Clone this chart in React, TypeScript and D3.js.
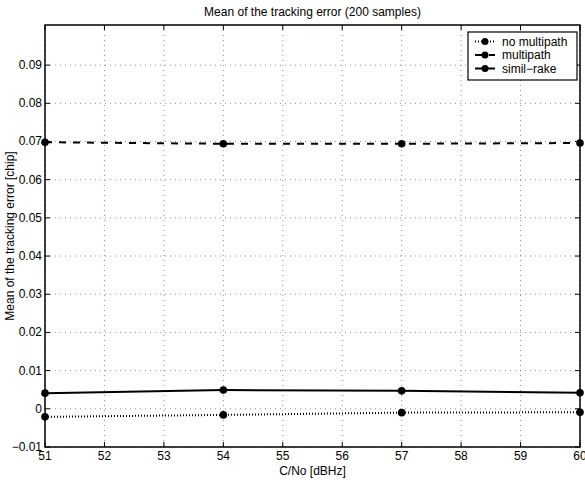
import React from "react";
import * as d3 from "d3";

const xValues = [51, 54, 57, 60];
const noMultipath = [-0.0021, -0.0016, -0.0010, -0.0009];
const multipath = [0.0698, 0.0694, 0.0694, 0.0696];
const similRake = [0.0041, 0.0049, 0.0047, 0.0042];
const xTicks = [51, 52, 53, 54, 55, 56, 57, 58, 59, 60];
const yTicks = [-0.01, 0, 0.01, 0.02, 0.03, 0.04, 0.05, 0.06, 0.07, 0.08, 0.09];
const seriesNames = ["no multipath", "multipath", "simil\u2212rake"];
const title = "Mean of the tracking error (200 samples)";
const xLabel = "C/No [dBHz]";
const yLabel = "Mean of the tracking error [chip]";

const W = 585, H = 480;
const L = 45, R = 580, T = 25, B = 447;
const font = "'Liberation Sans', Arial, Helvetica, sans-serif";
const fs = 12;

export default function App() {
  const x = d3.scaleLinear().domain([51, 60]).range([L, R]);
  const y = d3.scaleLinear().domain([-0.01, 0.1005]).range([B, T]);
  const line = d3.line<number>().x((_, i) => x(xValues[i])).y((d) => y(d));
  const fmt = (v: number) => {
    if (Math.abs(v) < 1e-9) return "0";
    const s = d3.format(".2f")(v);
    return s.replace("-", "\u2212");
  };
  const series = [
    { name: seriesNames[0], data: noMultipath, dash: "1,2" },
    { name: seriesNames[1], data: multipath, dash: "7,7" },
    { name: seriesNames[2], data: similRake, dash: "" },
  ];
  const legX = 468, legY = 32, legW = 109, legH = 48;
  return (
    <svg width={W} height={H} style={{ position: "absolute", left: 0, top: 0, background: "#fff" }}>
      <rect x={0} y={0} width={W} height={H} fill="#fff" />
      {xTicks.map((t) => (
        <line key={"gx" + t} x1={x(t)} x2={x(t)} y1={T} y2={B} stroke="#444" strokeWidth={0.6} strokeDasharray="1,4" />
      ))}
      {yTicks.map((t) => (
        <line key={"gy" + t} x1={L} x2={R} y1={y(t)} y2={y(t)} stroke="#444" strokeWidth={0.6} strokeDasharray="1,4" />
      ))}
      {xTicks.map((t) => (
        <g key={"tx" + t}>
          <line x1={x(t)} x2={x(t)} y1={B} y2={B - 5} stroke="#000" />
          <line x1={x(t)} x2={x(t)} y1={T} y2={T + 5} stroke="#000" />
          <text x={x(t)} y={B + 13} fontSize={fs} fontFamily={font} textAnchor="middle">{t}</text>
        </g>
      ))}
      {yTicks.map((t) => (
        <g key={"ty" + t}>
          <line x1={L} x2={L + 5} y1={y(t)} y2={y(t)} stroke="#000" />
          <line x1={R} x2={R - 5} y1={y(t)} y2={y(t)} stroke="#000" />
          <text x={L - 3} y={y(t) + 4} fontSize={fs} fontFamily={font} textAnchor="end">{fmt(t)}</text>
        </g>
      ))}
      {series.map((s) => (
        <g key={s.name}>
          <path d={line(s.data) || ""} fill="none" stroke="#000" strokeWidth={2} strokeDasharray={s.dash || undefined} />
          {s.data.map((v, i) => (
            <circle key={i} cx={x(xValues[i])} cy={y(v)} r={3.8} fill="#000" />
          ))}
        </g>
      ))}
      <rect x={L} y={T} width={R - L} height={B - T} fill="none" stroke="#000" strokeWidth={1.5} />
      <rect x={legX} y={legY} width={legW} height={legH} fill="#fff" stroke="#000" strokeWidth={1.2} />
      {series.map((s, i) => {
        const ly = legY + 9.5 + i * 13.5;
        return (
          <g key={"leg" + i}>
            <line x1={legX + 7} x2={legX + 27} y1={ly} y2={ly} stroke="#000" strokeWidth={2} strokeDasharray={s.dash || undefined} />
            <circle cx={legX + 17} cy={ly} r={3.5} fill="#000" />
            <text x={legX + 34} y={ly + 4} fontSize={fs} fontFamily={font}>{s.name}</text>
          </g>
        );
      })}
      <text x={(L + R) / 2} y={16} fontSize={fs} fontFamily={font} textAnchor="middle">{title}</text>
      <text x={(L + R) / 2} y={475} fontSize={fs} fontFamily={font} textAnchor="middle">{xLabel}</text>
      <text transform={`translate(14,${(T + B) / 2}) rotate(-90)`} fontSize={fs} fontFamily={font} textAnchor="middle">{yLabel}</text>
    </svg>
  );
}
